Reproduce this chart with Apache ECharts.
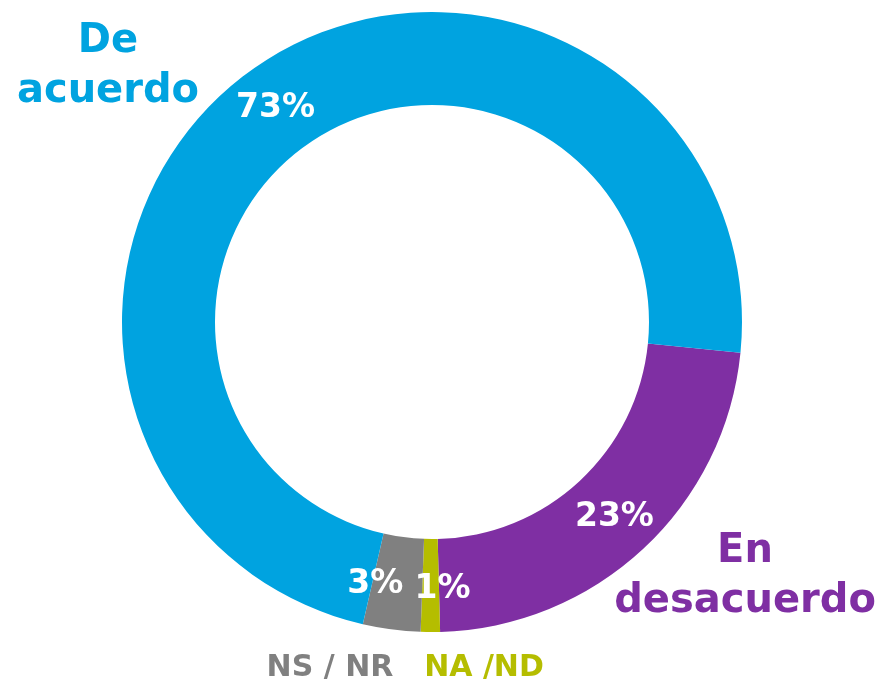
<!DOCTYPE html>
<html>
<head>
<meta charset="utf-8">
<title>De acuerdo / En desacuerdo</title>
<script src="https://cdn.jsdelivr.net/npm/echarts@6/dist/echarts.min.js"></script>
<style>
  html, body { margin: 0; padding: 0; background: #fff; }
  #chart { width: 882px; height: 683px; }
</style>
</head>
<body>
<div id="chart"></div>
<script>
// datos (en orden horario desde la derecha)
const categories = ['En\ndesacuerdo', 'NA /ND', 'NS / NR', 'De\nacuerdo']
const values = [23, 1, 3, 73]
const colors = ['#7f2fa3', '#b5bd00', '#808080', '#00a3e0']

const chart = echarts.init(document.getElementById('chart'))
const font = 'DejaVu Sans'

// desplazamiento de las etiquetas de porcentaje (las dos pequeñas se separan)
const labelOffsets = [[1, 0], [12, 1], [-22, -2], [-1, 3]]

// posiciones de los nombres fuera del anillo
const namePos = [[745, 577], [484, 668], [330, 668], [108, 67]]
const nameSize = [40, 30, 30, 40]

const option = {
  animation: false,
  series: [
    {
      type: 'pie',
      center: [432, 322],
      radius: [217, 310],
      startAngle: -5.7,
      clockwise: true,
      silent: true,
      label: {
        show: true,
        position: 'inside',
        formatter: '{c}%',
        color: '#fff',
        fontFamily: font,
        fontWeight: 'bold',
        fontSize: 33
      },
      labelLine: { show: false },
      itemStyle: { borderWidth: 0 },
      data: values.map((v, i) => ({
        name: categories[i],
        value: v,
        itemStyle: { color: colors[i] },
        label: { offset: labelOffsets[i] }
      }))
    }
  ],
  graphic: categories.map((c, i) => ({
    type: 'text',
    x: namePos[i][0],
    y: namePos[i][1],
    style: {
      text: c,
      fill: colors[i],
      font: 'bold ' + nameSize[i] + 'px "' + font + '"',
      align: 'center',
      verticalAlign: 'middle',
      lineHeight: 50
    }
  }))
}

chart.setOption(option)
</script>
</body>
</html>
